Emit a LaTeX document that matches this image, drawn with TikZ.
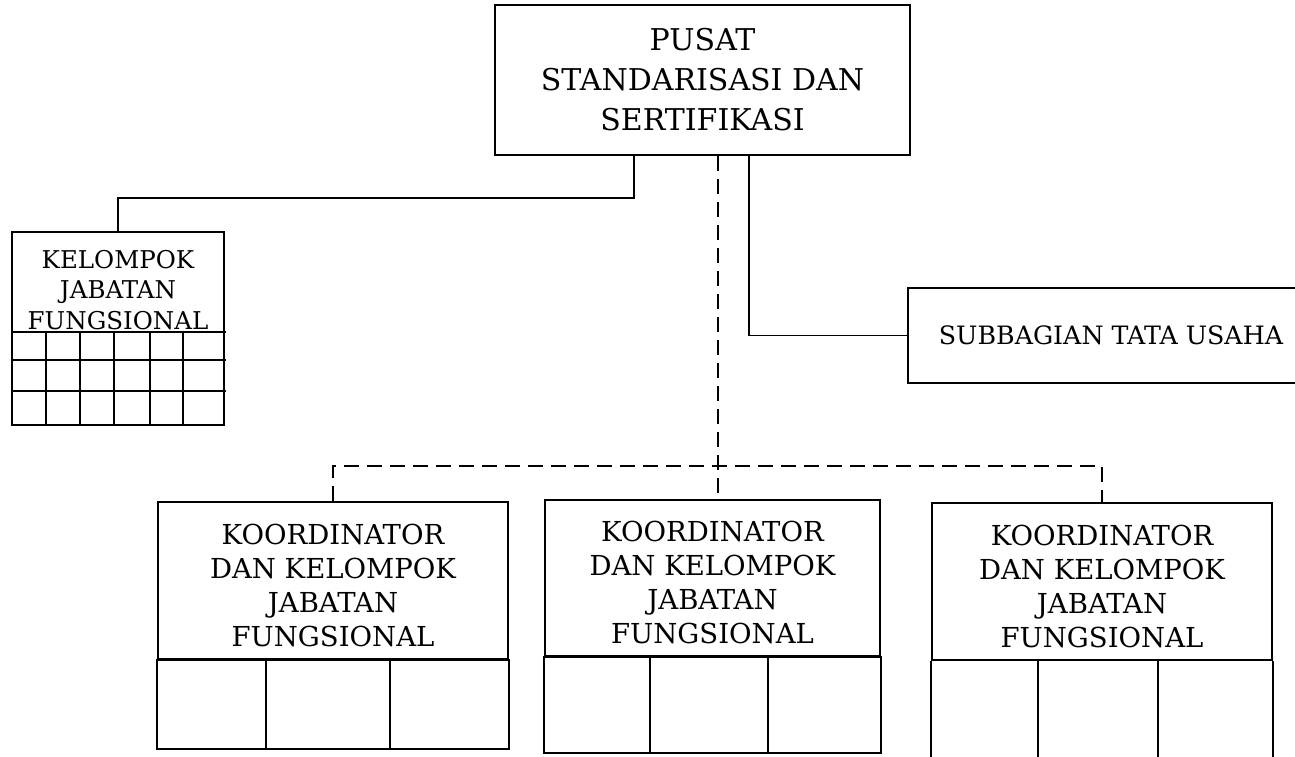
\documentclass[tikz,border=0pt]{standalone}
\usepackage{fontspec}
\setmainfont{DejaVu Serif}
\usetikzlibrary{positioning,calc}
\tikzset{
    unit/.style = {draw, rectangle, line width=1.8pt, align=center, inner sep=0pt},
    label/.style = {align=center, inner sep=0pt},
    koortext/.style = {label, font=\fontsize{27.5}{34}\selectfont},
    link/.style = {line width=1.8pt},
    dlink/.style = {line width=1.8pt, dash pattern=on 15pt off 8pt},
    grid/.style = {line width=1.8pt},
}

\begin{document}
\begin{tikzpicture}[x=1pt, y=-1pt]
\useasboundingbox (0,0) rectangle (1295,757);

% Head unit
\node[unit, minimum width=415pt, minimum height=150pt, font=\fontsize{30}{40}\selectfont] (pusat) at (702.5,80) {PUSAT\\STANDARISASI DAN\\SERTIFIKASI};

% Functional group (left) with its grid
\node[unit, minimum width=212pt, minimum height=193pt] (kjf) at (118,328.5) {};
\node[label, font=\fontsize{24.5}{30.5}\selectfont] (kjftext) at (118,290) {KELOMPOK\\JABATAN\\FUNGSIONAL};
\foreach \y in {332,360,391}
    \draw[grid] (12,\y) -- (226,\y);
\foreach \x in {46,80,114,150,183}
    \draw[grid] (\x,332) -- (\x,425);

% Admin subsection (right)
\node[unit, minimum width=406pt, minimum height=95pt, font=\fontsize{25.3}{30}\selectfont] (subbag) at (1111,335.5) {SUBBAGIAN TATA USAHA};

% Coordinator boxes
\node[unit, minimum width=350pt, minimum height=157pt] (koor1) at (333,580.5) {};
\node[unit, minimum width=335pt, minimum height=156pt] (koor2) at (712.5,578) {};
\node[unit, minimum width=340pt, minimum height=157pt] (koor3) at (1102,581.5) {};
\node[koortext] (koor1text) at (333,585) {KOORDINATOR\\DAN KELOMPOK\\JABATAN\\FUNGSIONAL};
\node[koortext] (koor2text) at (712.5,582) {KOORDINATOR\\DAN KELOMPOK\\JABATAN\\FUNGSIONAL};
\node[koortext] (koor3text) at (1102,586) {KOORDINATOR\\DAN KELOMPOK\\JABATAN\\FUNGSIONAL};

% cells under the coordinator boxes
\draw[grid] (koor1.south west) rectangle (koor1.south east |- 0,749);
\draw[grid] (266,659) -- (266,749) (390,659) -- (390,749);
\draw[grid] (koor2.south west) rectangle (koor2.south east |- 0,753);
\draw[grid] (650,656) -- (650,753) (768,656) -- (768,753);
\draw[grid] (koor3.south west) -- (koor3.south west |- 0,762) (koor3.south east) -- (koor3.south east |- 0,762);
\draw[grid] (1038,660) -- (1038,762) (1158,660) -- (1158,762);

% Solid lines
\draw[link] ($(pusat.south)+(-68.5,0)$) -- ++(0,42) -| (kjf.north);
\draw[link] ($(pusat.south)+(46.5,0)$) |- (subbag.west);

% Dashed line to coordinators
\coordinate (bus) at ($(pusat.south)+(15.5,310)$);
\draw[dlink] ($(pusat.south)+(15.5,0)$) -- (bus |- koor2.north);
\draw[dlink] (koor1.north) |- (bus) -| (koor3.north);

\end{tikzpicture}
\end{document}
